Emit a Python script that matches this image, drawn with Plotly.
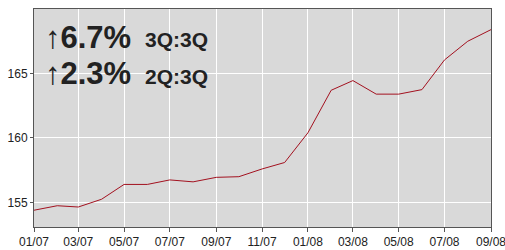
import plotly.graph_objects as go

months = ["2007-01-01", "2007-02-01", "2007-03-01", "2007-04-01", "2007-05-01", "2007-06-01",
          "2007-07-01", "2007-08-01", "2007-09-01", "2007-10-01", "2007-11-01", "2007-12-01",
          "2008-01-01", "2008-02-01", "2008-03-01", "2008-04-01", "2008-05-01", "2008-06-01",
          "2008-07-01", "2008-08-01", "2008-09-01"]
values = [154.4, 154.75, 154.65, 155.25, 156.4, 156.4,
          156.75, 156.6, 156.95, 157.0, 157.6, 158.1,
          160.4, 163.7, 164.45, 163.4, 163.4, 163.75,
          166.05, 167.5, 168.4]
tick_vals = ["2007-01-01", "2007-03-01", "2007-05-01", "2007-07-01", "2007-09-01", "2007-11-01",
             "2008-01-01", "2008-03-01", "2008-05-01", "2008-07-01", "2008-09-01"]
tick_text = ["01/07", "03/07", "05/07", "07/07", "09/07", "11/07",
             "01/08", "03/08", "05/08", "07/08", "09/08"]
y_ticks = [155, 160, 165]
big_labels = ["↑6.7%", "↑2.3%"]
small_labels = ["3Q:3Q", "2Q:3Q"]

fig = go.Figure()
fig.add_trace(go.Scatter(x=months, y=values, mode="lines",
                         line=dict(color="#a3111f", width=1), hoverinfo="skip"))

font_family = "Liberation Sans, Arial, sans-serif"
fig.update_layout(
    width=505, height=250,
    margin=dict(l=34, r=14, t=9, b=23),
    paper_bgcolor="white", plot_bgcolor="#d9d9d9",
    showlegend=False,
    font=dict(family=font_family, size=12, color="#222"),
    xaxis=dict(type="date", range=["2007-01-01", "2008-09-01"],
               tickvals=tick_vals, ticktext=tick_text, ticklabeloverflow="allow",
               showgrid=True, gridcolor="white", gridwidth=1,
               showline=True, linecolor="#555", linewidth=1, mirror=True,
               ticks="outside", ticklen=4, tickcolor="#555",
               tickfont=dict(size=12, color="#222"), automargin=False, zeroline=False),
    yaxis=dict(range=[153.1, 170], tickvals=y_ticks,
               showgrid=True, gridcolor="white", gridwidth=1,
               showline=True, linecolor="#555", linewidth=1, mirror=True,
               ticks="outside", ticklen=3, tickcolor="#555",
               tickfont=dict(size=12, color="#222"), automargin=False, zeroline=False),
)

ys = [0.87, 0.703]
for big, small, y in zip(big_labels, small_labels, ys):
    fig.add_annotation(xref="paper", yref="paper", x=0.02, y=y, xanchor="left", yanchor="middle",
                       text="<b>" + big + "</b>", showarrow=False,
                       font=dict(size=31, color="#222", family=font_family))
    fig.add_annotation(xref="paper", yref="paper", x=0.238, y=y - 0.012, xanchor="left", yanchor="middle",
                       text="<b>" + small + "</b>", showarrow=False,
                       font=dict(size=21, color="#222", family=font_family))

fig.write_html("out.html", config={"displayModeBar": False},
               post_script="document.body.style.margin='0';document.body.style.overflow='hidden';")
